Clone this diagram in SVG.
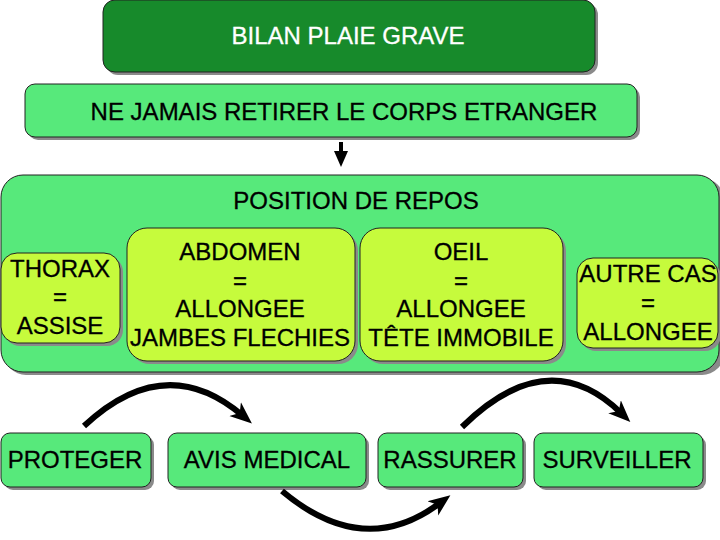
<svg xmlns="http://www.w3.org/2000/svg" width="720" height="540" viewBox="0 0 720 540">
<defs>
<style>
.shadow{fill:#8a8a8a;}
.dark{fill:#178a2b;stroke:#222;stroke-width:1;}
.green{fill:#57e97b;stroke:#222;stroke-width:1;}
.lime{fill:#c6fb3c;stroke:#222;stroke-width:1;}
text{font-family:"Liberation Sans",Arial,sans-serif;font-size:24px;text-anchor:middle;fill:#000;stroke:#000;stroke-width:0.3;}
.white{fill:#fff;stroke:#fff;}
.arc{fill:none;stroke:#000;stroke-width:6;}
.down{fill:none;stroke:#000;stroke-width:4;}
</style>
<marker id="head" markerUnits="userSpaceOnUse" markerWidth="24" markerHeight="20" viewBox="0 0 24 20" refX="9" refY="10" orient="auto">
<path d="M0,1 L22,10 L0,19 L6,10 z" fill="#000"/>
</marker>
<marker id="head2" markerUnits="userSpaceOnUse" markerWidth="18" markerHeight="16" viewBox="0 0 18 16" refX="2" refY="8" orient="auto">
<path d="M0,1 L16,8 L0,15 z" fill="#000"/>
</marker>
</defs>
<rect width="720" height="540" fill="#fff"/>

<g id="bilan">
<rect class="shadow" x="106" y="3" width="492" height="72" rx="12"/>
<rect class="dark" x="103" y="0" width="492" height="72" rx="12"/>
<text class="white" x="348" y="44">BILAN PLAIE GRAVE</text>
</g>

<g id="retirer">
<rect class="shadow" x="28" y="87" width="612" height="53" rx="10"/>
<rect class="green" x="25" y="84" width="612" height="53" rx="10"/>
<text x="344" y="120">NE JAMAIS RETIRER LE CORPS ETRANGER</text>
</g>

<g id="position">
<rect class="shadow" x="4" y="178" width="720" height="197" rx="22"/>
<rect class="green" x="1" y="175" width="718" height="197" rx="22"/>
<text x="356" y="209">POSITION DE REPOS</text>
</g>

<g id="thorax">
<rect class="shadow" x="4" y="256" width="119" height="90" rx="16"/>
<rect class="lime" x="1" y="253" width="119" height="90" rx="16"/>
<text x="60" y="277">THORAX</text>
<text x="60" y="305">=</text>
<text x="60" y="334">ASSISE</text>
</g>

<g id="abdomen">
<rect class="shadow" x="130" y="231" width="228" height="133" rx="20"/>
<rect class="lime" x="127" y="228" width="228" height="133" rx="20"/>
<text x="240" y="260">ABDOMEN</text>
<text x="240" y="289">=</text>
<text x="240" y="317">ALLONGEE</text>
<text x="240" y="346">JAMBES FLECHIES</text>
</g>

<g id="oeil">
<rect class="shadow" x="363" y="231" width="203" height="133" rx="20"/>
<rect class="lime" x="360" y="228" width="203" height="133" rx="20"/>
<text x="461" y="260">OEIL</text>
<text x="461" y="289">=</text>
<text x="461" y="317">ALLONGEE</text>
<text x="461" y="346">TÊTE IMMOBILE</text>
</g>

<g id="autre">
<rect class="shadow" x="580" y="261" width="141" height="90" rx="16"/>
<rect class="lime" x="577" y="258" width="141" height="90" rx="16"/>
<text x="648" y="282">AUTRE CAS</text>
<text x="648" y="311">=</text>
<text x="648" y="340">ALLONGEE</text>
</g>

<g id="proteger">
<rect class="shadow" x="4" y="436" width="150" height="54" rx="9"/>
<rect class="green" x="1" y="433" width="150" height="54" rx="9"/>
<text x="75" y="468">PROTEGER</text>
</g>

<g id="avis">
<rect class="shadow" x="171" y="436" width="198" height="54" rx="9"/>
<rect class="green" x="168" y="433" width="198" height="54" rx="9"/>
<text x="267" y="468">AVIS MEDICAL</text>
</g>

<g id="rassurer">
<rect class="shadow" x="381" y="436" width="145" height="54" rx="9"/>
<rect class="green" x="378" y="433" width="145" height="54" rx="9"/>
<text x="450" y="468">RASSURER</text>
</g>

<g id="surveiller">
<rect class="shadow" x="537" y="436" width="169" height="54" rx="9"/>
<rect class="green" x="534" y="433" width="169" height="54" rx="9"/>
<text x="617" y="468">SURVEILLER</text>
</g>

<g id="connectors">
<path class="down" d="M341,142 L341,153" marker-end="url(#head2)"/>
<path class="arc" d="M84,426 Q165,350 242,415" marker-end="url(#head)"/>
<path class="arc" d="M282,491 Q364,560 440,503" marker-end="url(#head)"/>
<path class="arc" d="M462,427 Q548,342 621,413" marker-end="url(#head)"/>
</g>
</svg>
